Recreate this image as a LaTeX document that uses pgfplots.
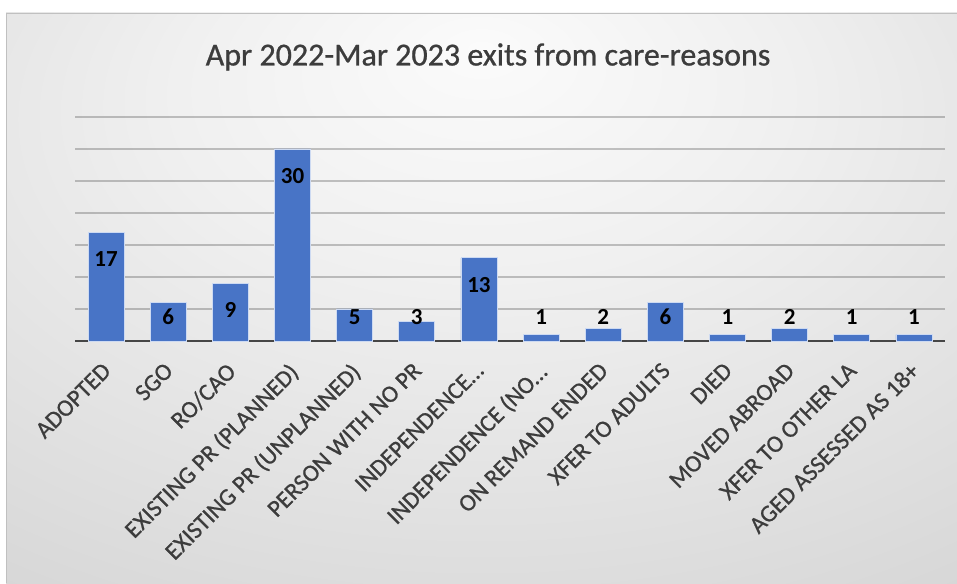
\documentclass[border=0pt]{standalone}
\usepackage{pgfplots}
\pgfplotsset{compat=1.18}
\usepackage{pgfplotstable}
\usepackage{fontspec}
\setmainfont{Carlito}
\newfontfamily\heavier{Carlito}[FakeBold=0.8]
\definecolor{barblue}{RGB}{72,116,198}
\definecolor{baredge}{RGB}{205,218,242}
\definecolor{txtgray}{RGB}{60,60,60}
\definecolor{axisgray}{RGB}{70,70,70}
\definecolor{framegray}{RGB}{192,192,192}
\definecolor{bgca}{RGB}{251,251,251}
\definecolor{bgcb}{RGB}{240,240,240}
\definecolor{bgcc}{RGB}{214,214,214}
\definecolor{bgcd}{RGB}{198,198,198}
\pgfdeclareradialshading{chartbg}{\pgfpoint{0bp}{22bp}}{color(0bp)=(bgca); color(16bp)=(bgcb); color(45bp)=(bgcc); color(85bp)=(bgcd)}

\pgfplotstableread{
x v
0 17
1 6
2 9
3 30
4 5
5 3
6 13
7 1
8 2
9 6
10 1
11 2
12 1
13 1
}\exits

\begin{document}
\begin{tikzpicture}
\path[use as bounding box] (0pt,0pt) rectangle (957pt,583pt);
\fill[white] (0pt,0pt) rectangle (957pt,583pt);
\shade[shading=chartbg] (6pt,0pt) rectangle (957pt,570pt);
\draw[framegray, line width=1pt] (6.5pt,0pt) -- (6.5pt,569.5pt) -- (957pt,569.5pt);
\node[font=\heavier\fontsize{32}{38}\selectfont, text=txtgray] at (488pt,526pt) {Apr 2022-Mar 2023 exits from care-reasons};
\begin{axis}[
  at={(75pt,242pt)}, anchor=south west,
  width=870pt, height=224pt, scale only axis,
  xmin=-0.5, xmax=13.5, ymin=0, ymax=35,
  ytick={0,5,...,35}, yticklabels={},
  ymajorgrids, grid style={black, opacity=0.22, line width=1.5pt},
  axis x line*=bottom, axis y line*=left,
  y axis line style={draw=none},
  x axis line style={-, line width=2.5pt, axisgray},
  xtick={0,...,13},
  xticklabels={ADOPTED, SGO, RO/CAO, EXISTING PR (PLANNED), EXISTING PR (UNPLANNED), PERSON WITH NO PR, INDEPENDENCE…, INDEPENDENCE (NO…, ON REMAND ENDED, XFER TO ADULTS, DIED, MOVED ABROAD, XFER TO OTHER LA, AGED ASSESSED AS 18+},
  major tick length=0pt,
  xticklabel style={text=txtgray, font=\heavier\fontsize{24}{29}\selectfont, inner sep=0pt, xshift=-5pt, yshift=-20pt, rotate=45, anchor=north east},
  /pgf/number format/assume math mode=true,
  clip=false,
]
\addplot[ybar, bar width=0.58, fill=barblue, draw=baredge, line width=0.8pt] table[x=x, y=v] {\exits};
\addplot[draw=none, mark=none, nodes near coords, point meta=explicit,
  nodes near coords style={anchor=center, font=\bfseries\fontsize{23}{28}\selectfont, text=black}]
  table[x=x, y expr={max(\thisrow{v}-4.2,3.75)}, meta=v] {\exits};
\end{axis}
\end{tikzpicture}
\end{document}
